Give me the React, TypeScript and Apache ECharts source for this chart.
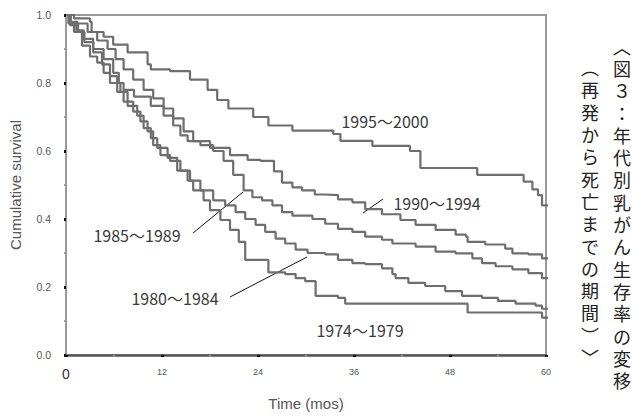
import React, { useEffect, useRef } from 'react';
import * as echarts from 'echarts';

const xTickValues = [0, 12, 24, 36, 48, 60];
const yTickValues = [0, 0.2, 0.4, 0.6, 0.8, 1.0];
const groupNames = ['1995～2000', '1990～1994', '1985～1989', '1980～1984', '1974～1979'];
const xTitle = 'Time (mos)';
const yTitle = 'Cumulative survival';
const captionMain = ['︿', '図', '３', '：', '年', '代', '別', '乳', 'が', 'ん', '生', '存', '率', 'の', '変', '移'];
const captionSub = ['︵', '再', '発', 'か', 'ら', '死', '亡', 'ま', 'で', 'の', '期', '間', '︶', '﹀'];

// [month, cumulative survival]
const curve1995 = [[0,1],[1,0.99],[3,0.98],[3.2,0.95],[4.7,0.936],[5.9,0.913],[7.7,0.89],[10.2,0.855],[10.6,0.84],[13,0.835],[15.5,0.81],[17.7,0.78],[18.9,0.75],[20.3,0.725],[23.4,0.70],[25.3,0.675],[28.3,0.66],[33.4,0.65],[34.3,0.63],[38.3,0.615],[43,0.60],[44.3,0.55],[51.4,0.53],[57.2,0.51],[58.3,0.487],[59,0.47],[59.5,0.44],[62,0.44]];
const curve1990 = [[0,1],[0.6,0.98],[1.4,0.975],[2.7,0.95],[3.9,0.925],[5.2,0.9],[6.2,0.87],[7.2,0.84],[8.4,0.81],[9.7,0.78],[10.9,0.755],[12.2,0.725],[13.4,0.696],[14.7,0.658],[15.9,0.629],[18,0.609],[20.5,0.588],[22.7,0.574],[24.3,0.571],[26,0.54],[27,0.507],[28.3,0.493],[29.5,0.484],[31.1,0.472],[32.4,0.47],[34,0.458],[35.8,0.449],[37.4,0.429],[39.5,0.414],[41.8,0.397],[43.7,0.383],[46.2,0.368],[48.7,0.354],[50,0.348],[50.2,0.333],[52.4,0.325],[54.9,0.313],[55.8,0.299],[57.8,0.296],[59.5,0.284],[62,0.281]];
const curve1985 = [[0,1],[0.4,0.975],[1.5,0.955],[2.2,0.93],[3.4,0.9],[4.7,0.87],[5.9,0.83],[6.6,0.8],[7.2,0.78],[8.5,0.76],[10.6,0.733],[12.2,0.704],[13.4,0.675],[14.3,0.646],[15.2,0.629],[16.8,0.617],[18.4,0.6],[19.7,0.571],[20.9,0.53],[22.2,0.484],[23.3,0.464],[24.5,0.455],[25.8,0.44],[27,0.42],[28.3,0.41],[30.8,0.40],[32.4,0.386],[34,0.371],[35.8,0.362],[37.4,0.348],[39.5,0.339],[40.8,0.328],[43.7,0.319],[46.2,0.304],[48.7,0.299],[50.8,0.284],[52,0.27],[53.7,0.261],[55.8,0.252],[57.8,0.241],[59.5,0.226],[62,0.22]];
const curve1980 = [[0,1],[0.5,0.97],[1.3,0.95],[2.3,0.92],[3.4,0.89],[4.5,0.855],[5.5,0.82],[6.4,0.774],[7.2,0.745],[8.4,0.716],[9.3,0.687],[10.2,0.658],[10.9,0.617],[11.8,0.588],[13,0.571],[14.3,0.542],[15.5,0.513],[16.8,0.484],[18.4,0.455],[19.9,0.44],[21.2,0.42],[22.4,0.40],[23.7,0.383],[24.9,0.362],[26.2,0.342],[27.4,0.328],[28.7,0.31],[30.2,0.30],[32.4,0.296],[34,0.28],[35.8,0.27],[37.4,0.267],[39.5,0.255],[40.8,0.238],[41.2,0.226],[42.8,0.212],[44.9,0.203],[47.4,0.188],[49.5,0.174],[52,0.168],[54,0.159],[56.2,0.151],[58.7,0.145],[59.5,0.136],[62,0.136]];
const curve1974 = [[0,1],[0.3,0.975],[1,0.95],[2,0.91],[3,0.878],[3.9,0.86],[4.7,0.83],[5.5,0.80],[6.8,0.774],[7.7,0.733],[8.9,0.704],[9.7,0.667],[10.6,0.638],[11.4,0.609],[12.7,0.58],[13.9,0.542],[15.2,0.513],[15.9,0.484],[17.2,0.455],[18,0.426],[19.3,0.397],[20.5,0.368],[21.6,0.333],[22.4,0.28],[25.3,0.243],[27.4,0.238],[28.7,0.226],[29.9,0.217],[31.2,0.174],[34,0.168],[34.9,0.151],[49,0.151],[50.2,0.125],[56.2,0.125],[59.5,0.11],[62,0.11]];

const curves = [curve1995, curve1990, curve1985, curve1980, curve1974];

export default function App() {
  const ref = useRef<HTMLDivElement>(null);
  useEffect(() => {
    if (!ref.current) return;
    const chart = echarts.init(ref.current, null, { renderer: 'svg' });
    const labelFont = '16px "Noto Sans CJK JP", sans-serif';
    const labelPos = [[385, 121], [437, 203], [137, 235], [175, 298], [360, 330]];
    const leaders = [null, [383, 199, 363, 213], [193, 233, 243, 192], [230, 297, 307, 257], null];
    const graphics: any[] = [];
    groupNames.forEach((n, i) => {
      graphics.push({
        type: 'text', x: labelPos[i][0], y: labelPos[i][1],
        style: { text: n, font: labelFont, fill: '#3a3a3a', textAlign: 'center', textVerticalAlign: 'middle' },
      });
      const l = leaders[i];
      if (l) graphics.push({ type: 'line', shape: { x1: l[0], y1: l[1], x2: l[2], y2: l[3] }, style: { stroke: '#111', lineWidth: 1 } });
    });
    // vertical caption columns: small base font scaled up so line boxes do not collide
    const capScale = 1.2;
    graphics.push({
      type: 'text', x: 622, y: 34.5, scaleX: capScale, scaleY: capScale,
      style: { text: captionMain.join('\n'), font: '15px "Noto Sans CJK JP", sans-serif', lineHeight: 22.3 / capScale, fill: '#222', textAlign: 'center', textVerticalAlign: 'top' },
    });
    graphics.push({
      type: 'text', x: 590, y: 56, scaleX: capScale, scaleY: capScale,
      style: { text: captionSub.join('\n'), font: '15px "Noto Sans CJK JP", sans-serif', lineHeight: 22.3 / capScale, fill: '#222', textAlign: 'center', textVerticalAlign: 'top' },
    });

    chart.setOption({
      animation: false,
      backgroundColor: '#fff',
      grid: { left: 66, right: 87, top: 15, bottom: 56, show: true, borderColor: '#9a9a9a', borderWidth: 2 },
      xAxis: {
        type: 'value', min: 0, max: 60, interval: 12,
        name: xTitle, nameLocation: 'middle', nameGap: 41,
        nameTextStyle: { fontSize: 15, color: '#555', fontFamily: 'Liberation Sans' },
        axisLine: { lineStyle: { color: '#555', width: 2.5 } },
        axisTick: { show: true, length: 2, lineStyle: { color: '#111', width: 3 } },
        minorTick: { show: true, splitNumber: 2, length: 2, lineStyle: { color: '#999', width: 2 } },
        splitLine: { show: false },
        axisLabel: {
          margin: 12, showMaxLabel: true, showMinLabel: true,
          formatter: (v: number) => (v === 0 ? '{big|0}' : '{sm|' + v + '}'),
          rich: {
            big: { fontSize: 14, color: '#333', fontFamily: 'Liberation Sans' },
            sm: { fontSize: 9, color: '#555', fontFamily: 'Liberation Sans' },
          },
        },
      },
      yAxis: {
        type: 'value', min: 0, max: 1, interval: 0.2,
        name: yTitle, nameLocation: 'middle', nameGap: 43,
        nameTextStyle: { fontSize: 15, color: '#555', fontFamily: 'Liberation Sans' },
        axisLine: { show: true, lineStyle: { color: '#9a9a9a', width: 2 } },
        axisTick: { show: true, length: 2, lineStyle: { color: '#111', width: 3 } },
        minorTick: { show: true, splitNumber: 2, length: 2, lineStyle: { color: '#999', width: 2 } },
        splitLine: { show: false },
        axisLabel: { margin: 15, fontSize: 10.5, color: '#555', fontFamily: 'Liberation Sans', formatter: (v: number) => v.toFixed(1) },
      },
      series: curves.map((c, i) => ({
        type: 'line', name: groupNames[i], data: c, step: 'end', symbol: 'none', clip: false,
        lineStyle: { color: '#6e6e6e', width: 2.2 },
      })),
      graphic: graphics,
    });
    return () => chart.dispose();
  }, []);
  return <div ref={ref} style={{ position: 'fixed', left: 0, top: 0, width: 633, height: 416 }} />;
}
